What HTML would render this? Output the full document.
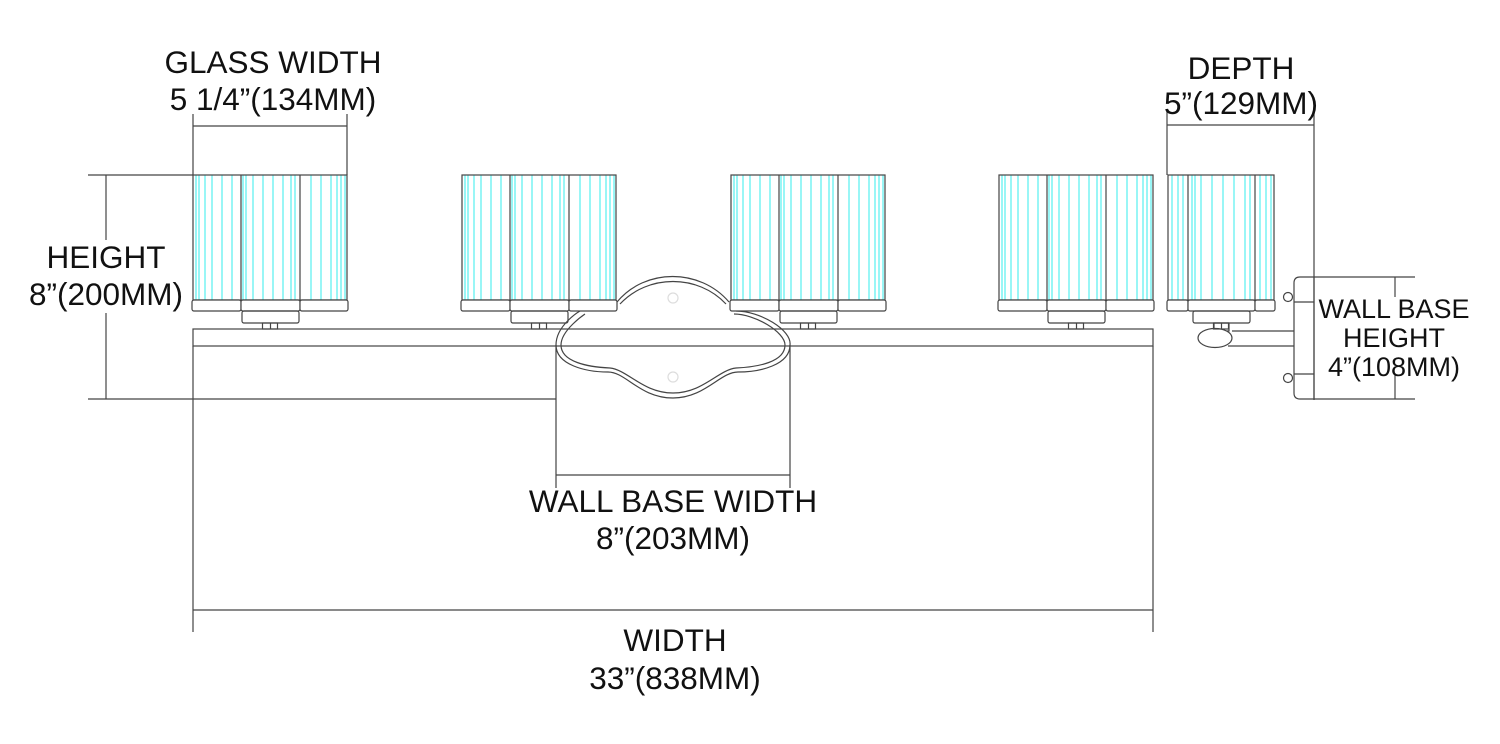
<!DOCTYPE html>
<html><head><meta charset="utf-8"><style>
html,body{margin:0;padding:0;background:#fff;width:1500px;height:744px;overflow:hidden}
svg text{font-family:"Liberation Sans",Arial,sans-serif;fill:#111;text-anchor:middle}
</style></head><body>
<svg id="s" width="1500" height="744" viewBox="0 0 1500 744" xmlns="http://www.w3.org/2000/svg">
<g fill="none" stroke="#444" stroke-width="1.2" id="g">
<rect x="193" y="329" width="960" height="17"/>
<line x1="193" y1="346" x2="193" y2="632"/>
<line x1="1153" y1="346" x2="1153" y2="632"/>
<line x1="193" y1="610" x2="1153" y2="610"/>
<line x1="88" y1="175" x2="193" y2="175"/>
<line x1="88" y1="399" x2="556" y2="399"/>
<line x1="106" y1="175" x2="106" y2="240"/>
<line x1="106" y1="313" x2="106" y2="399"/>
<line x1="193" y1="114" x2="193" y2="175"/>
<line x1="347" y1="114" x2="347" y2="175"/>
<line x1="193" y1="126" x2="347" y2="126"/>
<line x1="1167" y1="110" x2="1167" y2="175"/>
<line x1="1314" y1="110" x2="1314" y2="400"/>
<line x1="1167" y1="125" x2="1314" y2="125"/>
<line x1="556" y1="345" x2="556" y2="488"/>
<line x1="790" y1="345" x2="790" y2="488"/>
<line x1="556" y1="475" x2="790" y2="475"/>
<line x1="1314" y1="277" x2="1415" y2="277"/>
<line x1="1314" y1="399" x2="1415" y2="399"/>
<line x1="1395" y1="277" x2="1395" y2="297"/>
<line x1="1395" y1="375" x2="1395" y2="399"/>
<path d="M1300 277 H1314 V399 H1300 Q1294 399 1294 393 V283 Q1294 277 1300 277 Z"/>
<line x1="1294" y1="302" x2="1314" y2="302"/>
<line x1="1294" y1="374" x2="1314" y2="374"/>
<circle cx="1288" cy="297" r="4.5"/>
<circle cx="1288" cy="378" r="4.5"/>
<line x1="1232" y1="331" x2="1294" y2="331"/>
<line x1="1228" y1="346" x2="1294" y2="346"/>
<rect x="1214" y="323" width="15" height="8"/>
<ellipse cx="1215" cy="338" rx="17" ry="9.5" fill="#fff"/>
<path d="M617 302 C645 268 700 268 729 302 M736 311 C760 311 792 330 790 345 C790 365 760 372 738 372 C720 372 705 398 673 398 C640 398 626 372 608 372 C586 372 556 365 556 345 C556 325 580 311 580 311"/>
<path d="M620 304 C648 274 698 274 726 304 M734 314 C755 314 785 332 785 345 C785 362 758 367 736 368 C718 370 703 393 673 393 C643 393 628 370 610 368 C588 367 561 362 561 345 C561 330 585 314 585 314"/>
<circle cx="673" cy="298" r="5" stroke="#ddd"/>
<circle cx="673" cy="377" r="5" stroke="#ddd"/>
</g>
<g font-size="31.5">
<text x="273" y="73">GLASS WIDTH</text>
<text x="273" y="110">5 1/4”(134MM)</text>
<text x="106" y="268">HEIGHT</text>
<text x="106" y="305">8”(200MM)</text>
<text x="1241" y="79">DEPTH</text>
<text x="1241" y="114">5”(129MM)</text>
<text x="673" y="512">WALL BASE WIDTH</text>
<text x="673" y="549">8”(203MM)</text>
<text x="675" y="651">WIDTH</text>
<text x="675" y="689">33”(838MM)</text>
</g>
<g font-size="27">
<text x="1394" y="318">WALL BASE</text>
<text x="1394" y="347">HEIGHT</text>
<text x="1394" y="376">4”(108MM)</text>
</g>
</svg>
<script>
var g=document.getElementById('g'),NS='http://www.w3.org/2000/svg';
function el(t,a,p){var e=document.createElementNS(NS,t);for(var k in a)e.setAttribute(k,a[k]);(p||g).appendChild(e);return e;}
function shade(x,d1,d2,w,cyan,canX,canW){
  var cg=el('g',{stroke:'#3ee',"stroke-width":'1'});
  cyan.forEach(function(o){el('line',{x1:x+o,y1:175,x2:x+o,y2:300},cg);});
  el('rect',{x:x,y:175,width:w,height:125});
  el('line',{x1:x+d1,y1:175,x2:x+d1,y2:300});
  el('line',{x1:x+d2,y1:175,x2:x+d2,y2:300});
  el('rect',{x:x-1,y:300,width:d1+1,height:11,rx:2,fill:'#fff'});
  el('rect',{x:x+d1,y:300,width:d2-d1,height:11,rx:2,fill:'#fff'});
  el('rect',{x:x+d2,y:300,width:w-d2+1,height:11,rx:2,fill:'#fff'});
  el('rect',{x:x+canX,y:311,width:canW,height:12,rx:2});
  var c=x+canX+canW/2;
  el('rect',{x:c-8,y:323,width:15,height:6});
  el('line',{x1:c,y1:323,x2:c,y2:329});
}
var cy=[3,6,12,19,29,39,50,53,60,70,80,90,98,102,118,128,138,144,148,152];
[193,462,731,999].forEach(function(x){shade(x,48,107,154,cy,49,57);});
shade(1168,20,87,106,[4,10,15,24,27,33,44,55,66,77,82,92,98,103],25,57);
</script>
</body></html>
